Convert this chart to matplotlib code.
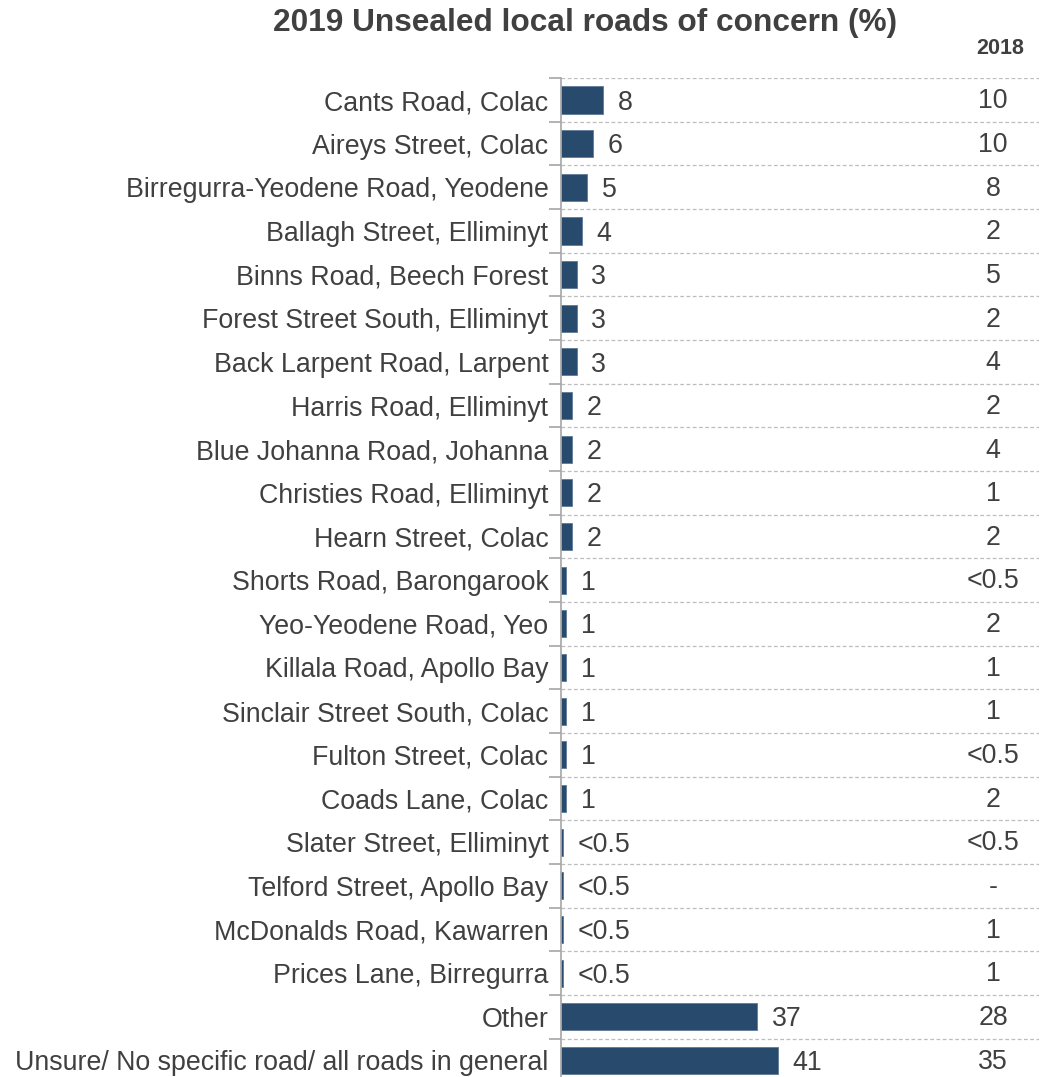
import matplotlib
matplotlib.use("Agg")
import numpy as np
import matplotlib.pyplot as plt
from matplotlib.transforms import blended_transform_factory

plt.rcParams["font.family"] = ["Liberation Sans", "DejaVu Sans"]

roads = [
    "Cants Road, Colac",
    "Aireys Street, Colac",
    "Birregurra-Yeodene Road, Yeodene",
    "Ballagh Street, Elliminyt",
    "Binns Road, Beech Forest",
    "Forest Street South, Elliminyt",
    "Back Larpent Road, Larpent",
    "Harris Road, Elliminyt",
    "Blue Johanna Road, Johanna",
    "Christies Road, Elliminyt",
    "Hearn Street, Colac",
    "Shorts Road, Barongarook",
    "Yeo-Yeodene Road, Yeo",
    "Killala Road, Apollo Bay",
    "Sinclair Street South, Colac",
    "Fulton Street, Colac",
    "Coads Lane, Colac",
    "Slater Street, Elliminyt",
    "Telford Street, Apollo Bay",
    "McDonalds Road, Kawarren",
    "Prices Lane, Birregurra",
    "Other",
    "Unsure/ No specific road/ all roads in general",
]
# "<0.5" drawn as a thin bar
values_2019 = [8, 6, 5, 4, 3, 3, 3, 2, 2, 2, 2, 1, 1, 1, 1, 1, 1,
               0.4, 0.4, 0.4, 0.4, 37, 41]
labels_2019 = ["8", "6", "5", "4", "3", "3", "3", "2", "2", "2", "2",
               "1", "1", "1", "1", "1", "1", "<0.5", "<0.5", "<0.5", "<0.5",
               "37", "41"]
labels_2018 = ["10", "10", "8", "2", "5", "2", "4", "2", "4", "1", "2",
               "<0.5", "2", "1", "1", "<0.5", "2", "<0.5", "-", "1", "1",
               "28", "35"]

BAR = "#284b6d"
TXT = "#404040"
FS = 19.3

fig = plt.figure(figsize=(10.46, 10.77), dpi=100)
# rows run slightly past the bottom edge, as in the original
ax = fig.add_axes([0.5363, -0.0048, 0.4570, 0.9322])

y = np.arange(len(roads))
ax.barh(y, values_2019, height=0.62, color=BAR, edgecolor="#5f7a96", linewidth=0.6)

ax.set_xlim(0, 90.2)
ax.set_ylim(len(roads) - 0.5, -0.5)

# category labels (no tick marks) + boundary ticks
ax.set_yticks(y)
ax.set_yticklabels(roads, fontsize=FS, color=TXT)
ax.tick_params(axis="y", which="major", length=0, pad=9)
ax.set_yticks(np.arange(len(roads) + 1) - 0.5, minor=True)
ax.tick_params(axis="y", which="minor", length=9, width=1.2, color="#a6a6a6")
ax.set_xticks([])

for s in ["top", "right", "bottom"]:
    ax.spines[s].set_visible(False)
ax.spines["left"].set_color("#a6a6a6")
ax.spines["left"].set_linewidth(1.2)

for b in np.arange(len(roads)) - 0.5:
    ax.axhline(b, color="#bdbdbd", linestyle=(0, (3, 2)), linewidth=0.9, zorder=0)

for yi, v, lab in zip(y, values_2019, labels_2019):
    ax.annotate(lab, (v, yi + 0.06), xytext=(10.5, 0), textcoords="offset points",
                ha="left", va="center", fontsize=FS, color=TXT)

tr = blended_transform_factory(ax.transAxes, ax.transData)
for yi, lab in zip(y, labels_2018):
    ax.text(0.904, yi + 0.03, lab, transform=tr, ha="center", va="center",
            fontsize=FS, color=TXT)

fig.text(0.559, 0.979, "2019 Unsealed local roads of concern (%)", ha="center",
         va="center", fontsize=22.8, fontweight="bold", color=TXT)
fig.text(0.956, 0.955, "2018", ha="center", va="center", fontsize=15.5,
         fontweight="bold", color=TXT)

fig.savefig("out.png", dpi=100)
